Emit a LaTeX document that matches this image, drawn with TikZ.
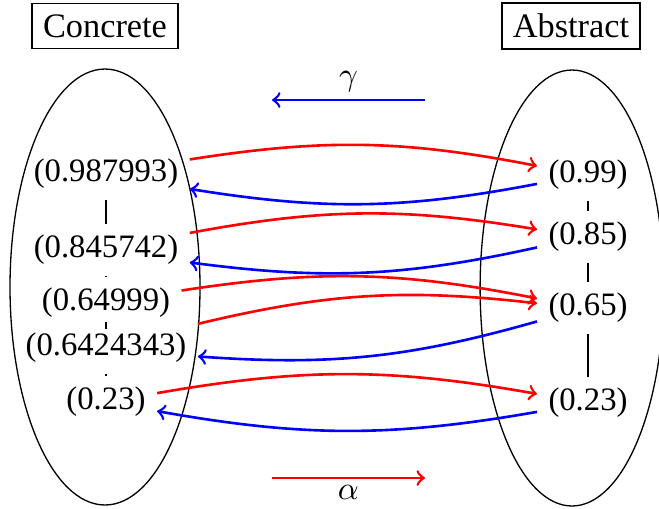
\documentclass[tikz,border=0pt]{standalone}
\usepackage{fontspec}
\setmainfont{Liberation Serif}
\begin{document}
\begin{tikzpicture}[x=0.3058pt,y=-0.3058pt,
  val/.style={inner sep=3.33pt},
  titlebox/.style={draw, line width=0.4pt, inner sep=3.33pt, font=\fontsize{10.5}{12.6}\selectfont},
  alphaarr/.style={->, red, thick},
  gammaarr/.style={->, blue, thick},
  lbl/.style={text=black, inner sep=2pt},
  hasse/.style={line width=0.4pt}]
\useasboundingbox (0,0) rectangle (659,508);
% titles
\node[titlebox] (conc) at (105,26) {Concrete};
\node[titlebox] (abs) at (571,26) {Abstract};
% ellipses
\draw (105,287) ellipse [x radius=29.05pt, y radius=66.66pt];
\draw (572,288) ellipse [x radius=28.1pt, y radius=66.66pt];
% concrete values
\node[val] (c1) at (106,174) {(0.987993)};
\node[val] (c2) at (106,250) {(0.845742)};
\node[val] (c3) at (106,303) {(0.64999)};
\node[val] (c4) at (106,348) {(0.6424343)};
\node[val] (c5) at (106,402) {(0.23)};
% abstract values
\node[val] (a1) at (588,175) {(0.99)};
\node[val] (a2) at (588,237) {(0.85)};
\node[val] (a3) at (588,308) {(0.65)};
\node[val] (a4) at (588,403) {(0.23)};
% order lines
\draw[hasse] (c1) -- (c2);
\draw[hasse] (c2) -- (c3);
\draw[hasse] (c3) -- (c4);
\draw[hasse] (c4) -- (c5);
\draw[hasse] (a1) -- (a2);
\draw[hasse] (a2) -- (a3);
\draw[hasse] (a3) -- (a4);
% alpha
\draw[alphaarr] (c1) to[bend left=10] (a1);
\draw[alphaarr] (c2) to[bend left=10] (a2);
\draw[alphaarr] (c3) to[bend left=10] (a3);
\draw[alphaarr] (c4) to[bend left=10] (a3);
\draw[alphaarr] (c5) to[bend left=10] (a4);
% gamma
\draw[gammaarr] (a1) to[bend left=10] (c1);
\draw[gammaarr] (a2) to[bend left=10] (c2);
\draw[gammaarr] (a3) to[bend left=10] (c4);
\draw[gammaarr] (a4) to[bend left=10] (c5);
% legend arrows
\coordinate (g1) at (425,100);
\coordinate (g2) at (272,100);
\draw[gammaarr] (g1) -- node[above, lbl] {$\gamma$} (g2);
\coordinate (l1) at (272,478);
\coordinate (l2) at (425,478);
\draw[alphaarr] (l1) -- node[below, lbl] {$\alpha$} (l2);
\end{tikzpicture}
\end{document}
